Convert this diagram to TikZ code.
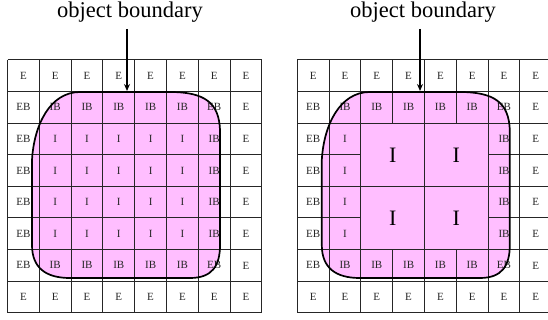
\documentclass[tikz,border=0pt]{standalone}
\usepackage{fontspec}
\setmainfont{Liberation Serif}
\usetikzlibrary{arrows.meta}

\definecolor{objpink}{RGB}{255,190,255}

\tikzset{
  grid line/.style={line width=1pt, black!85},
  cell label/.style={font=\fontsize{11}{11}\selectfont, text=black!85, inner sep=0pt},
  big label/.style={font=\fontsize{22}{22}\selectfont, inner sep=0pt},
  boundary/.style={line width=1.7pt, line join=round},
  pointer/.style={line width=1.6pt, -{Stealth[length=7pt,width=6pt]}},
  caption/.style={font=\fontsize{22.5}{22.5}\selectfont, inner sep=0pt, anchor=base},
}

\begin{document}
\begin{tikzpicture}[x=1pt,y=-1pt]
    \useasboundingbox (0,0) rectangle (548,320);
    \clip (0,0) rectangle (548,320);

    % Object regions (pink fill)
    \foreach \dx in {0,289.8} {
        \fill[objpink,xshift=\dx] (80,92) -- (170,92) .. controls (205,92) and (219,103) .. (220,130)
            -- (220,245) .. controls (220,266) and (212,278) .. (190,278) -- (70,278)
            .. controls (46,278) and (32,268) .. (32,245) -- (32,160)
            .. controls (34,125) and (50,92) .. (80,92) -- cycle;
    }

    % Left grid
    \foreach \k in {0,...,8} {
        \draw[grid line] ({7.5+\k*31.8},60) -- ({7.5+\k*31.8},312.8);
        \draw[grid line] (7.5,{60+\k*31.6}) -- (261.9,{60+\k*31.6});
    }

    % Right grid (merged interior blocks)
    \begin{scope}[xshift=289.8]
        \foreach \k in {0,1,2,4,6,7,8} {
            \draw[grid line] ({7.5+\k*31.8},60) -- ({7.5+\k*31.8},312.8);
            \draw[grid line] (7.5,{60+\k*31.6}) -- (261.9,{60+\k*31.6});
        }
        \foreach \k in {3,5} {
            \draw[grid line] ({7.5+\k*31.8},60) -- ({7.5+\k*31.8},123.2);
            \draw[grid line] ({7.5+\k*31.8},249.6) -- ({7.5+\k*31.8},312.8);
            \draw[grid line] (7.5,{60+\k*31.6}) -- (71.1,{60+\k*31.6});
            \draw[grid line] (198.3,{60+\k*31.6}) -- (261.9,{60+\k*31.6});
        }
    \end{scope}

    % Cell labels, left grid
    \foreach \row/\labs in {0/{E,E,E,E,E,E,E,E},1/{EB,IB,IB,IB,IB,IB,EB,E},
                            2/{EB,I,I,I,I,I,IB,E},3/{EB,I,I,I,I,I,IB,E},
                            4/{EB,I,I,I,I,I,IB,E},5/{EB,I,I,I,I,I,IB,E},
                            6/{EB,IB,IB,IB,IB,IB,EB,E},7/{E,E,E,E,E,E,E,E}} {
        \foreach \lab [count=\col from 0] in \labs
            \node[cell label] (L-\row-\col) at ({7.5+(\col+0.5)*31.8},{60+(\row+0.5)*31.6}) {\lab};
    }

    % Cell labels, right grid
    \begin{scope}[xshift=289.8]
        \foreach \row/\labs in {0/{E,E,E,E,E,E,E,E},1/{EB,IB,IB,IB,IB,IB,EB,E},
                                6/{EB,IB,IB,IB,IB,IB,EB,E},7/{E,E,E,E,E,E,E,E}} {
            \foreach \lab [count=\col from 0] in \labs
                \node[cell label] (R-\row-\col) at ({7.5+(\col+0.5)*31.8},{60+(\row+0.5)*31.6}) {\lab};
        }
        \foreach \row in {2,...,5} {
            \foreach \col/\lab in {0/EB,1/I,6/IB,7/E}
                \node[cell label] (R-\row-\col) at ({7.5+(\col+0.5)*31.8},{60+(\row+0.5)*31.6}) {\lab};
        }
        % merged interior cells
        \foreach \bi/\bx in {1/102.9,2/166.5} {
            \foreach \bj/\by in {1/154.8,2/218}
                \node[big label] (R-big-\bi-\bj) at (\bx,\by) {I};
        }
    \end{scope}

    % Object boundaries
    \foreach \dx in {0,289.8} {
        \draw[boundary,xshift=\dx] (80,92) -- (170,92) .. controls (205,92) and (219,103) .. (220,130)
            -- (220,245) .. controls (220,266) and (212,278) .. (190,278) -- (70,278)
            .. controls (46,278) and (32,268) .. (32,245) -- (32,160)
            .. controls (34,125) and (50,92) .. (80,92) -- cycle;
    }

    % Captions and pointers
    \node[caption] (capL) at (130,18) {object boundary};
    \node[caption] (capR) at (423,18) {object boundary};
    \coordinate (tailL) at (127,29);
    \coordinate (tipL) at (127,91);
    \coordinate (tailR) at (420,29);
    \coordinate (tipR) at (420,91);
    \draw[pointer] (tailL) -- (tipL);
    \draw[pointer] (tailR) -- (tipR);
\end{tikzpicture}
\end{document}
